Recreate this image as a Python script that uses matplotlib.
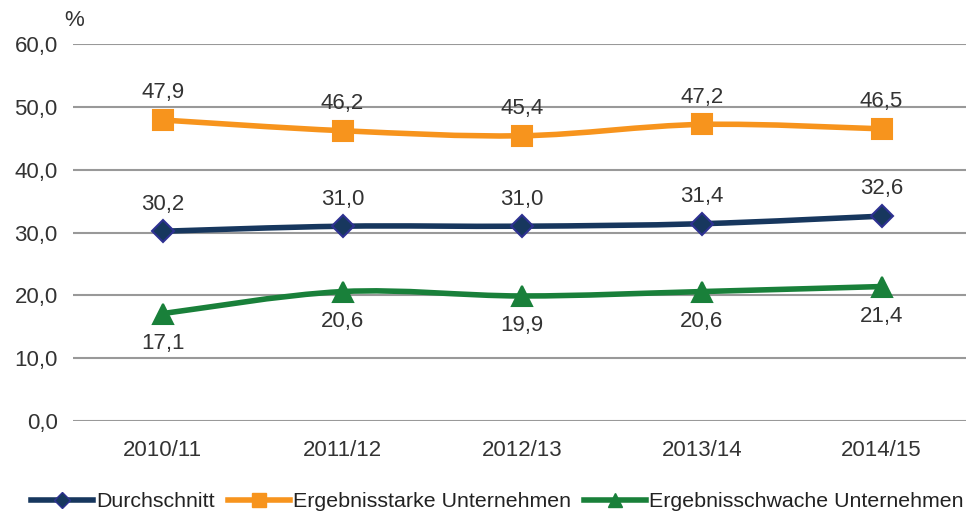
import matplotlib.pyplot as plt
from matplotlib.path import Path
from matplotlib.patches import PathPatch
from matplotlib.lines import Line2D

plt.rcParams['font.family'] = ['Liberation Sans', 'DejaVu Sans']

years = ['2010/11', '2011/12', '2012/13', '2013/14', '2014/15']
durchschnitt = [30.2, 31.0, 31.0, 31.4, 32.6]
stark = [47.9, 46.2, 45.4, 47.2, 46.5]
schwach = [17.1, 20.6, 19.9, 20.6, 21.4]


def fmt(v):
    return f'{v:.1f}'.replace('.', ',')


# smooth line like Excel: bezier segments through the points
def smooth_path(xs, ys, t=0.17):
    verts = [(xs[0], ys[0])]
    codes = [Path.MOVETO]
    n = len(xs)
    for i in range(n - 1):
        x0, y0 = xs[max(i - 1, 0)], ys[max(i - 1, 0)]
        x1, y1 = xs[i], ys[i]
        x2, y2 = xs[i + 1], ys[i + 1]
        x3, y3 = xs[min(i + 2, n - 1)], ys[min(i + 2, n - 1)]
        c1 = (x1 + (x2 - x0) * t, y1 + (y2 - y0) * t)
        c2 = (x2 - (x3 - x1) * t, y2 - (y3 - y1) * t)
        verts += [c1, c2, (x2, y2)]
        codes += [Path.CURVE4] * 3
    return Path(verts, codes)


fig = plt.figure(figsize=(9.66, 5.15), dpi=100)
ax = fig.add_axes([73 / 966, 94 / 515, 893 / 966, 377 / 515])

x = list(range(len(years)))
series = [
    (durchschnitt, '#17375E', 'D', '#2E3192', 11, 'Durchschnitt', 'above'),
    (stark, '#F7941D', 's', '#F7941D', 14, 'Ergebnisstarke Unternehmen', 'above'),
    (schwach, '#19803A', '^', '#19803A', 15, 'Ergebnisschwache Unternehmen', 'below'),
]
handles = []
for vals, col, mk, mec, ms, name, pos in series:
    ax.add_patch(PathPatch(smooth_path(x, vals), facecolor='none',
                           edgecolor=col, lw=4, zorder=3, capstyle='round'))
    ax.plot(x, vals, linestyle='none', marker=mk, markersize=ms,
            markerfacecolor=col, markeredgecolor=mec, markeredgewidth=1.5,
            zorder=4)
    for xi, v in zip(x, vals):
        if pos == 'above':
            ax.annotate(fmt(v), (xi, v), xytext=(0, 12), textcoords='offset points',
                        ha='center', va='bottom', fontsize=16, color='#333333')
        else:
            ax.annotate(fmt(v), (xi, v), xytext=(0, -14), textcoords='offset points',
                        ha='center', va='top', fontsize=16, color='#333333')
    handles.append(Line2D([], [], color=col, lw=4, marker=mk, markersize=ms * 0.7,
                          markerfacecolor=col, markeredgecolor=mec))

ax.set_xlim(-0.5, 4.47)
ax.set_ylim(0, 60)
ax.set_yticks(range(0, 61, 10))
ax.set_yticklabels([fmt(v) for v in range(0, 61, 10)])
ax.set_xticks(x)
ax.set_xticklabels(years)
ax.grid(axis='y', color='#999999', lw=1.5)
ax.set_axisbelow(True)
for s in ax.spines.values():
    s.set_visible(False)
ax.tick_params(length=0, labelsize=16, colors='#333333', pad=11)
ax.tick_params(axis='x', pad=14)
ax.text(-0.55, 63.8, '%', fontsize=16, color='#333333', ha='left', va='center')

fig.legend(handles, [s[5] for s in series], loc='lower left',
           bbox_to_anchor=(12 / 966, -0.03), ncol=3, frameon=False, fontsize=15.4,
           handlelength=2.9, handletextpad=0.14, columnspacing=0.6,
           labelcolor='#222222')

fig.savefig('out.png', dpi=100)
